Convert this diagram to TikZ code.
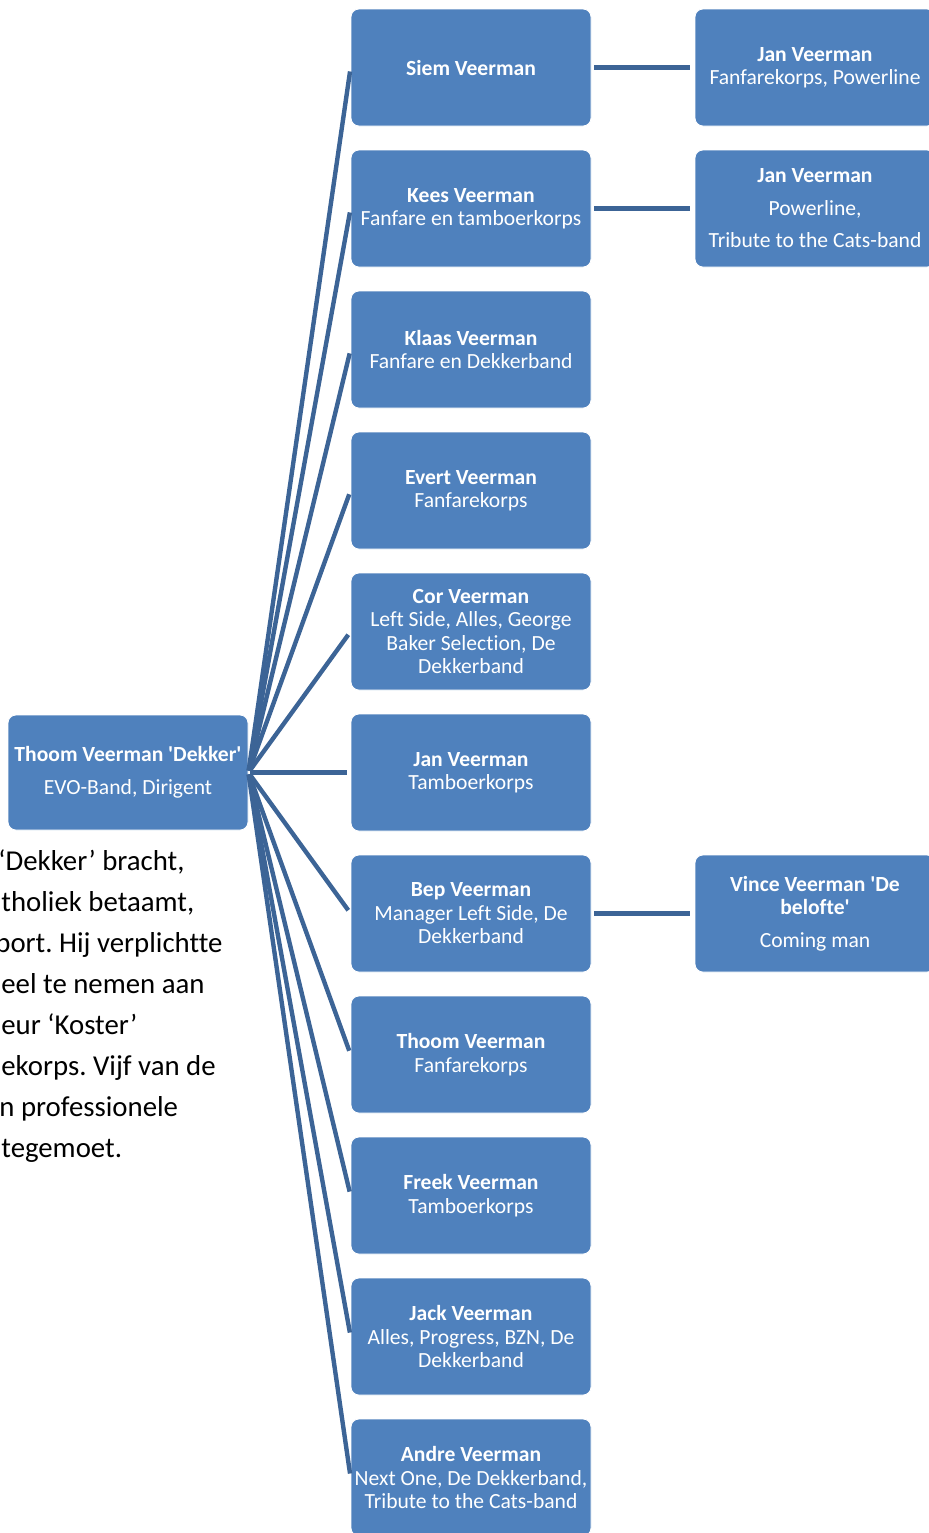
\documentclass[tikz,border=0pt]{standalone}
\usepackage{fontspec}
\setmainfont{Carlito}[Ligatures={TeX,NoCommon}]
\frenchspacing
\definecolor{boxblue}{HTML}{4F81BD}
\definecolor{linkblue}{HTML}{3C6496}

\begin{document}
\begin{tikzpicture}[x=0.5pt, y=-0.5pt,
  person/.style={shape=rectangle, rounded corners=4pt, fill=boxblue, draw=white, thin, text=white, align=center, minimum width=120pt, minimum height=58.5pt, inner sep=0pt, font=\fontsize{10.8}{11.75}\selectfont},
  branch/.style={line width=2.2pt, linkblue, shorten <=1pt, shorten >=2pt},
  pair/.style={line width=2.2pt, linkblue, shorten <=1.5pt, shorten >=2.5pt},
  bodytext/.style={anchor=base west, inner sep=0pt, font=\fontsize{14.4}{20.5}\selectfont}]
  \path[use as bounding box, clip] (0, 0) rectangle (929, 1533);
  \node (root) at (128, 772.5) [person, minimum height=57.5pt] {\textbf{Thoom Veerman \textquotesingle Dekker\textquotesingle}\\[4.5pt]EVO-Band, Dirigent};
  \node (1x1) at (471, 67.5) [person] {\textbf{Siem Veerman}};
  \node (2x1) at (471, 208.5) [person] {\textbf{Kees Veerman}\\Fanfare en tamboerkorps};
  \node (3x1) at (471, 349.5) [person] {\textbf{Klaas Veerman}\\Fanfare en Dekkerband};
  \node (4x1) at (471, 490.5) [person] {\textbf{Evert Veerman}\\Fanfarekorps};
  \node (5x1) at (471, 631.5) [person] {\textbf{Cor Veerman}\\Left Side, Alles, George\\Baker Selection, De\\Dekkerband};
  \node (6x1) at (471, 772.5) [person] {\textbf{Jan Veerman}\\Tamboerkorps};
  \node (7x1) at (471, 913.5) [person] {\textbf{Bep Veerman}\\Manager Left Side, De\\Dekkerband};
  \node (8x1) at (471, 1054.5) [person] {\textbf{Thoom Veerman}\\Fanfarekorps};
  \node (9x1) at (471, 1195.5) [person] {\textbf{Freek Veerman}\\Tamboerkorps};
  \node (10x1) at (471, 1336.5) [person] {\textbf{Jack Veerman}\\Alles, Progress, BZN, De\\Dekkerband};
  \node (11x1) at (471, 1477.5) [person] {\textbf{Andre Veerman}\\Next One, De Dekkerband,\\Tribute to the Cats-band};
  \node (1x2) at (815, 67.5) [person] {\textbf{Jan Veerman}\\Fanfarekorps, Powerline};
  \node (2x2) at (815, 208.5) [person] {\textbf{Jan Veerman}\\[4.5pt]Powerline,\\[4.5pt]Tribute to the Cats-band};
  \node (7x2) at (815, 913.5) [person] {\textbf{Vince Veerman \textquotesingle De}\\\textbf{belofte\textquotesingle}\\[4.5pt]Coming man};
  \draw[branch] (root.east) -- (1x1.west);
  \draw[branch] (root.east) -- (2x1.west);
  \draw[branch] (root.east) -- (3x1.west);
  \draw[branch] (root.east) -- (4x1.west);
  \draw[branch] (root.east) -- (5x1.west);
  \draw[branch] (root.east) -- (6x1.west);
  \draw[branch] (root.east) -- (7x1.west);
  \draw[branch] (root.east) -- (8x1.west);
  \draw[branch] (root.east) -- (9x1.west);
  \draw[branch] (root.east) -- (10x1.west);
  \draw[branch] (root.east) -- (11x1.west);
  \draw[pair] (1x1.east) -- (1x2.west);
  \draw[pair] (2x1.east) -- (2x2.west);
  \draw[pair] (7x1.east) -- (7x2.west);
\node (line1) at (-2, 870) [bodytext] {‘Dekker’ bracht,};
\node (line2) at (1, 911) [bodytext] {tholiek betaamt,};
\node (line3) at (-5, 952) [bodytext] {port. Hij verplichtte};
\node (line4) at (1, 993) [bodytext] {eel te nemen aan};
\node (line5) at (1, 1034) [bodytext] {eur ‘Koster’};
\node (line6) at (1, 1075) [bodytext] {ekorps. Vijf van de};
\node (line7) at (-1, 1116) [bodytext] {n professionele};
\node (line8) at (1, 1157) [bodytext] {tegemoet.};
\end{tikzpicture}
\end{document}
